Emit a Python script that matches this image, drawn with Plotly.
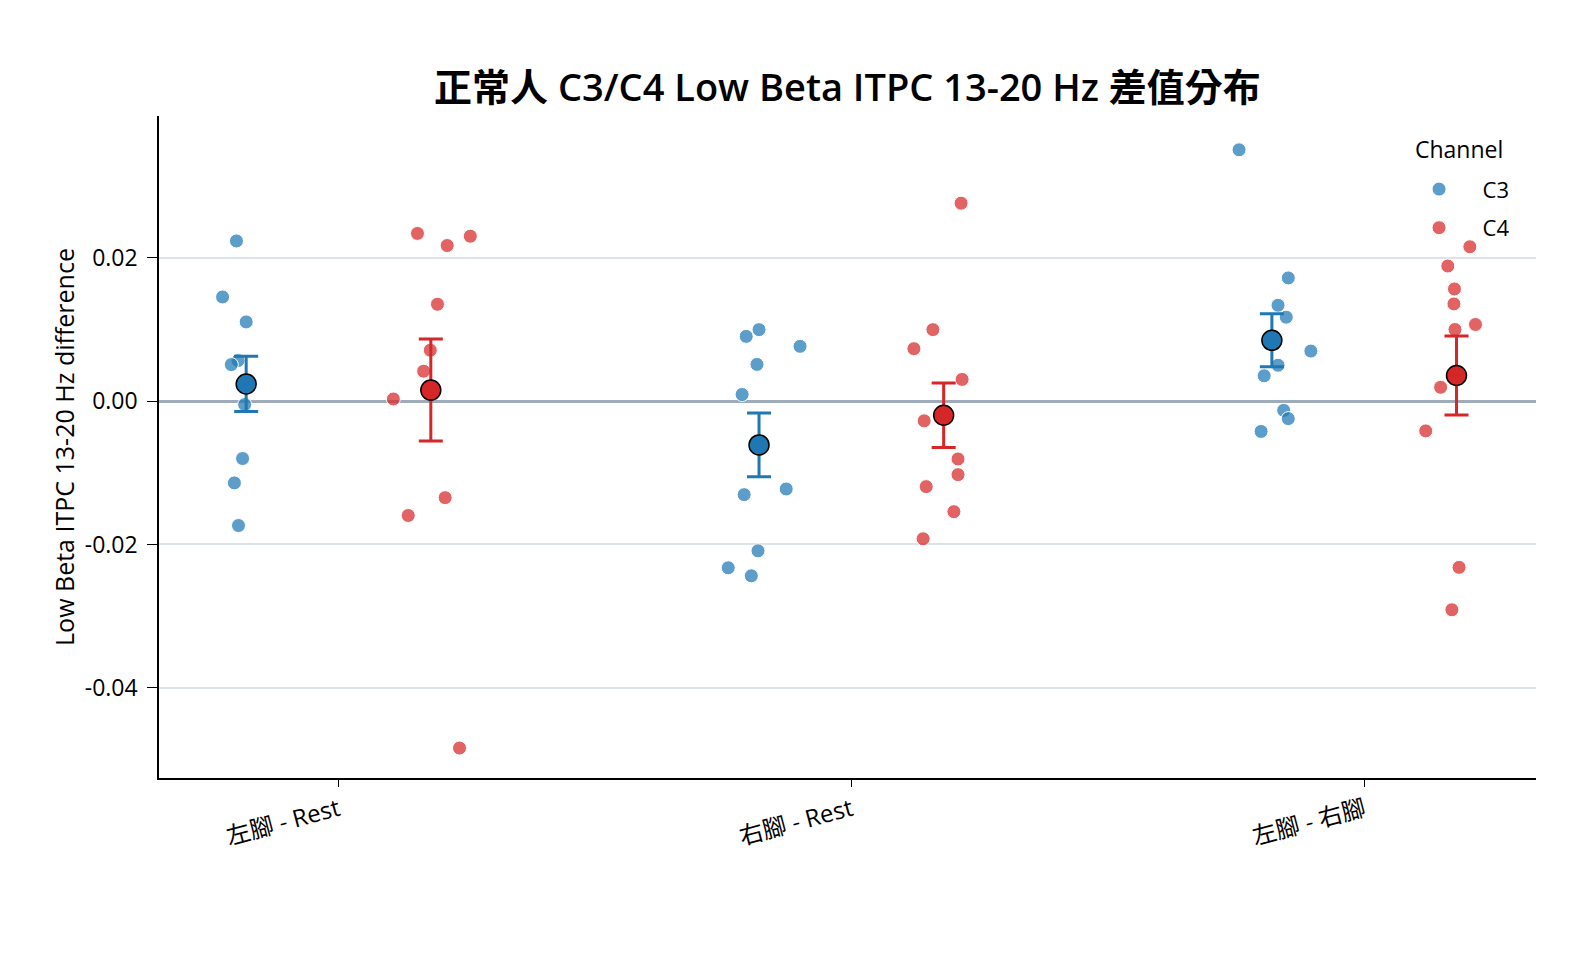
import numpy as np
import plotly.graph_objects as go

categories = ["左腳 - Rest", "右腳 - Rest", "左腳 - 右腳"]
channels = ["C3", "C4"]

# values per category
c3_values = [
    [0.02236, 0.01454, 0.01106, 0.00566, 0.00510, 0.0025, -0.00048, -0.00801, -0.01141, -0.01736],
    [0.00998, 0.00904, 0.00765, 0.00513, 0.00093, -0.01305, -0.01226, -0.02089, -0.02326, -0.02438],
    [0.03508, 0.01720, 0.01338, 0.01172, 0.00699, 0.00501, 0.00354, -0.00129, -0.00244, -0.00423],
]
c4_values = [
    [0.02341, 0.02172, 0.02302, 0.01352, 0.00711, 0.00418, 0.00030, -0.01347, -0.01596, -0.04842],
    [0.02763, 0.00998, 0.00732, 0.00303, -0.00275, -0.00807, -0.01026, -0.01193, -0.01543, -0.01921],
    [0.02155, 0.01886, 0.01566, 0.01357, 0.01070, 0.01000, 0.00193, -0.00415, -0.02320, -0.02912],
]
# strip-plot jitter
c3_jitter = [
    [-0.019, -0.046, 0.0, -0.016, -0.029, 0.0, -0.003, -0.007, -0.023, -0.015],
    [0.0, -0.025, 0.08, -0.004, -0.033, -0.029, 0.053, -0.002, -0.06, -0.015],
    [-0.064, 0.032, 0.012, 0.028, 0.076, 0.012, -0.015, 0.023, 0.032, -0.021],
]
c4_jitter = [
    [-0.026, 0.032, 0.077, 0.013, -0.001, -0.014, -0.073, 0.028, -0.044, 0.056],
    [0.034, -0.021, -0.058, 0.036, -0.038, 0.028, 0.028, -0.034, 0.02, -0.04],
    [0.026, -0.017, -0.004, -0.005, 0.037, -0.003, -0.031, -0.06, 0.005, -0.009],
]

DODGE = 0.18
point_colors = {"C3": "rgba(31,119,180,0.72)", "C4": "rgba(214,39,40,0.72)"}
mean_colors = {"C3": "#1f77b4", "C4": "#d62728"}
FONT = "Open Sans, Noto Sans CJK TC"

fig = go.Figure()
series = {"C3": (c3_values, c3_jitter, -DODGE), "C4": (c4_values, c4_jitter, DODGE)}

for ch in channels:
    vals, jit, d = series[ch]
    xs, ys = [], []
    for i, (v, j) in enumerate(zip(vals, jit)):
        xs += [i + d + jj for jj in j]
        ys += v
    fig.add_trace(go.Scatter(
        x=xs, y=ys, mode="markers", name=ch, legendgroup=ch,
        marker=dict(size=14, color=point_colors[ch], line=dict(color="white", width=1)),
    ))

for ch in channels:
    vals, jit, d = series[ch]
    means = [float(np.mean(v)) for v in vals]
    ses = [float(np.std(v, ddof=1) / np.sqrt(len(v))) for v in vals]
    fig.add_trace(go.Scatter(
        x=[i + d for i in range(len(categories))], y=means, mode="markers",
        showlegend=False,
        marker=dict(size=20, color=mean_colors[ch], line=dict(color="black", width=1.5)),
        error_y=dict(type="data", array=ses, visible=True, color=mean_colors[ch],
                     thickness=3, width=12),
    ))

fig.update_layout(
    width=1584, height=972,
    paper_bgcolor="white", plot_bgcolor="white",
    margin=dict(l=159, r=48, t=116, b=194),
    font=dict(family=FONT, size=22, color="black"),
    title=dict(text="正常人 C3/C4 Low Beta ITPC 13-20 Hz 差值分布",
               x=0.535, xanchor="center", y=0.91, yanchor="middle",
               font=dict(family=FONT, size=38, color="black", weight=600)),
    legend=dict(x=0.8980, y=0.921, xanchor="left", yanchor="top",
                font=dict(size=22), itemwidth=77, tracegroupgap=7,
                bgcolor="rgba(0,0,0,0)"),
    showlegend=True,
    annotations=[dict(text="Channel", xref="paper", yref="paper",
                      x=0.9105, y=0.9494, xanchor="left", yanchor="middle",
                      showarrow=False, font=dict(size=23))],
)
fig.update_xaxes(
    range=[-0.35, 2.335], tickmode="array", tickvals=[0, 1, 2], ticktext=categories,
    tickangle=-15, showgrid=False, zeroline=False,
    showline=True, linecolor="black", linewidth=1.5,
    ticks="outside", ticklen=7, tickwidth=1.2, tickcolor="black",
    tickfont=dict(size=24),
)
fig.update_yaxes(
    range=[-0.0526, 0.0398], tickmode="array",
    tickvals=[-0.04, -0.02, 0.0, 0.02], ticktext=["-0.04", "-0.02", "0.00", "0.02"],
    showgrid=True, gridcolor="#dbe3ed", gridwidth=1.5,
    zeroline=True, zerolinecolor="#9eabbb", zerolinewidth=2.5,
    showline=True, linecolor="black", linewidth=1.5,
    ticks="outside", ticklen=10, tickwidth=1.2, tickcolor="black",
    tickfont=dict(size=23), ticklabelstandoff=5,
    title=dict(text="Low Beta ITPC 13-20 Hz difference", font=dict(size=25), standoff=3),
)

fig.write_html("out.html")
